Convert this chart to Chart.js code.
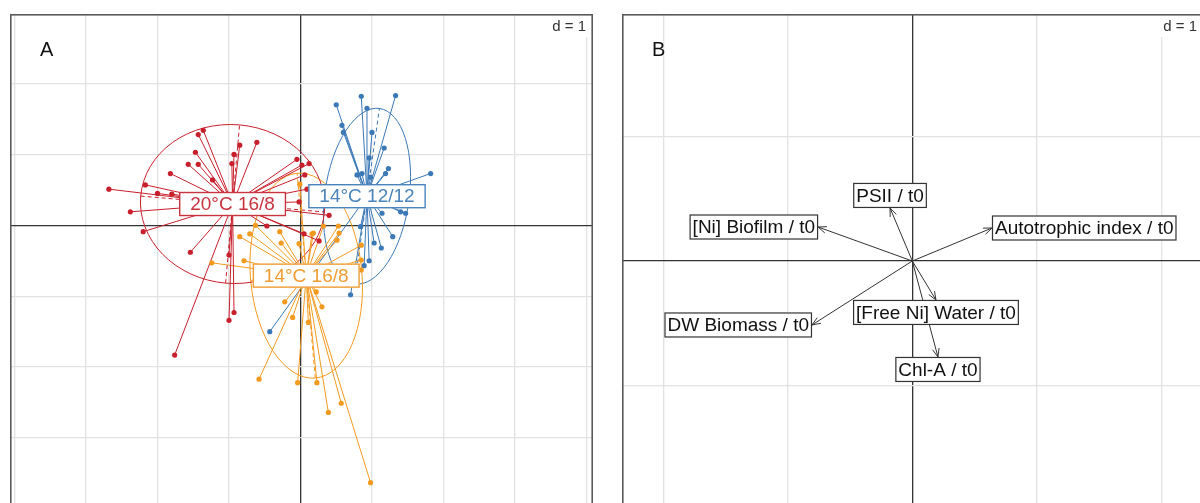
<!DOCTYPE html>
<html>
<head>
<meta charset="utf-8">
<script src="https://cdn.jsdelivr.net/npm/chart.js@4.4.1/dist/chart.umd.min.js"></script>
<style>
    html, body { margin: 0; padding: 0; background: #fff; overflow: hidden; }
    body { width: 1200px; height: 503px; position: relative; }
    .panel { position: absolute; top: 14px; height: 520px; }
    #panelA { left: 10px; width: 583px; }
    #panelB { left: 622px; width: 582px; }
</style>
</head>
<body>
<div class="panel" id="panelA"><canvas id="chartA"></canvas></div>
<div class="panel" id="panelB"><canvas id="chartB"></canvas></div>
<script>
// ---- panel A : groups (s.class) ----
const groupNames = ["14°C 12/12", "14°C 16/8", "20°C 16/8"];
const centroidX = [0.93, 0.08, -0.95];
const centroidY = [0.41, -0.71, 0.30];
// ellipse half axes and tilt (degrees)
const ellipseRx = [0.59, 0.78, 1.29];
const ellipseRy = [1.25, 1.45, 1.12];
const ellipseTilt = [-8, 5, -5];

const blueX = [0.50, 0.85, 1.33, 0.93, 0.58, 0.60, 1.00, 1.17, 1.23, 1.19, 1.82, 0.79, 0.86, 0.98, 0.96, 1.14, 1.40, 1.47, 1.29, 0.84, 1.03, 1.13, 0.89, 0.96, 0.70, -0.43];
const blueY = [1.70, 1.82, 1.83, 1.65, 1.41, 1.31, 1.31, 1.09, 0.80, 0.73, 0.73, 0.71, 0.73, 0.68, 0.95, 0.17, 0.19, 0.17, -0.16, -0.02, -0.25, -0.32, -0.57, -0.50, -0.98, -1.50];

const orangeX = [-0.85, -1.24, -0.79, -0.71, -0.63, -0.29, -0.27, -0.02, 0.18, 0.32, -0.22, -0.11, 0.11, 0.22, 0.30, -0.58, -0.04, 0.23, 0.39, 0.57, 0.98, 0.53, 0.54, 0.51, 0.85, 0.85, 0.85, -0.01, 0.16];
const orangeY = [-0.16, -0.53, -0.50, -0.12, 0.00, -0.09, -0.25, -0.26, -0.11, -0.01, -1.08, -1.30, -1.37, -0.94, -1.15, -2.17, -2.22, -2.22, -2.64, -2.51, -3.63, -0.01, -0.11, -0.21, -0.28, -0.49, -0.63, 0.58, -0.12];

const redX = [-2.68, -2.38, -2.20, -2.17, -2.00, -1.82, -1.80, -1.57, -1.47, -1.43, -1.43, -1.36, -1.23, -0.96, -0.93, -0.85, -0.61, -0.05, 0.02, 0.12, 0.06, 0.09, -0.02, 0.40, -1.54, -1.00, -0.93, -1.00, -1.76, -0.47, 0.05, 0.26];
const redY = [0.51, 0.19, -0.09, 0.57, 0.45, 0.73, 0.44, 0.86, 1.03, 0.86, 1.28, 1.34, 0.64, 0.87, 1.00, 1.13, 1.17, 0.93, 0.85, 0.87, 0.71, 0.51, 0.33, 0.14, -0.38, -0.42, -1.23, -1.34, -1.83, -0.01, -0.12, -0.22];

const ticksAX = [-4, -3, -2, -1, 0, 1, 2, 3, 4];
const ticksAY = [-4, -3, -2, -1, 0, 1, 2];

// ---- panel B : variables (s.arrow) ----
const varNames = ["[Ni] Biofilm / t0", "PSII / t0", "Autotrophic index / t0", "DW Biomass / t0", "[Free Ni] Water / t0", "Chl-A / t0"];
const varX = [-0.757, -0.179, 0.640, -0.806, 0.190, 0.206];
const varY = [0.273, 0.426, 0.265, -0.514, -0.313, -0.771];

const ticksBX = [-2, -1, 0, 1, 2];
const ticksBY = [-2, -1, 0, 1];

// colours
const groupColors = ["#3b79b6", "#f39a1f", "#c81f2c"];
const labelColors = ["#4a84bb", "#f09c33", "#c8343f"];
const FONT = '"Liberation Sans", Arial, sans-serif';

const groupPoints = [[blueX, blueY], [orangeX, orangeY], [redX, redY]];

function starData(cx, cy, xs, ys) {
    const out = [];
    xs.forEach((v, i) => {
        out.push({ x: cx, y: cy }, { x: v, y: ys[i] }, { x: v, y: null });
    });
    return out;
}

function gridScale(min, max, ticks) {
    return {
        type: "linear",
        min: min,
        max: max,
        bounds: "data",
        afterBuildTicks: (axis) => { axis.ticks = ticks.map(v => ({ value: v })); },
        ticks: { display: false },
        border: { display: false },
        grid: {
            drawTicks: false,
            color: (c) => c.tick && c.tick.value === 0 ? "#333333" : "#e2e2e2",
            lineWidth: 1.3
        }
    };
}

// frame, panel letter and "d = 1" box
function framePlugin(letter) {
    return {
        id: "frame" + letter,
        afterDraw(chart) {
            const { ctx, chartArea: a } = chart;
            ctx.save();
            ctx.fillStyle = "#fff";
            ctx.fillRect(a.right - 44, a.top + 1, 43, 22);
            ctx.fillStyle = "#333";
            ctx.font = "15px " + FONT;
            ctx.textAlign = "right";
            ctx.textBaseline = "middle";
            ctx.fillText("d = 1", a.right - 7, a.top + 13);

            ctx.fillStyle = "#111";
            ctx.font = "20px " + FONT;
            ctx.textAlign = "left";
            ctx.fillText(letter, a.left + 30, a.top + 36);

            ctx.strokeStyle = "#5a5a5a";
            ctx.lineWidth = 1.6;
            ctx.strokeRect(a.left + 0.8, a.top + 0.8, a.right - a.left - 1.6, a.bottom - a.top - 1.6);
            ctx.restore();
        }
    };
}

function drawBoxLabel(ctx, text, px, py, align, color, textColor, padX, h) {
    const w = ctx.measureText(text).width + padX * 2;
    let left = px - w / 2, top = py - h / 2;
    if (align === "left") left = px - w;
    if (align === "right") left = px;
    if (align === "top") top = py - h;
    if (align === "bottom") top = py;
    ctx.fillStyle = "#fff";
    ctx.fillRect(left, top, w, h);
    ctx.strokeStyle = color;
    ctx.strokeRect(left + 0.5, top + 0.5, w - 1, h - 1);
    ctx.fillStyle = textColor;
    ctx.textAlign = "left";
    ctx.textBaseline = "middle";
    ctx.fillText(text, left + padX, top + h / 2 + 1);
}

const ellipsePlugin = {
    id: "groupEllipses",
    beforeDatasetsDraw(chart) {
        const { ctx, scales: { x, y } } = chart;
        const sx = x.getPixelForValue(1) - x.getPixelForValue(0);
        const sy = y.getPixelForValue(0) - y.getPixelForValue(1);
        groupNames.forEach((g, i) => {
            const cx = x.getPixelForValue(centroidX[i]);
            const cy = y.getPixelForValue(centroidY[i]);
            const rx = ellipseRx[i], ry = ellipseRy[i];
            ctx.save();
            ctx.save();
            ctx.translate(cx, cy);
            ctx.scale(sx, -sy);
            ctx.rotate(ellipseTilt[i] * Math.PI / 180);
            ctx.beginPath();
            ctx.ellipse(0, 0, rx, ry, 0, 0, Math.PI * 2);
            ctx.restore();
            ctx.strokeStyle = groupColors[i];
            ctx.lineWidth = 1;
            ctx.stroke();

            ctx.save();
            ctx.translate(cx, cy);
            ctx.scale(sx, -sy);
            ctx.rotate(ellipseTilt[i] * Math.PI / 180);
            ctx.beginPath();
            ctx.moveTo(-rx, 0); ctx.lineTo(rx, 0);
            ctx.moveTo(0, -ry); ctx.lineTo(0, ry);
            ctx.restore();
            ctx.setLineDash([4, 3]);
            ctx.stroke();
            ctx.restore();
        });
    },
    afterDatasetsDraw(chart) {
        const { ctx, scales: { x, y } } = chart;
        ctx.save();
        ctx.font = "19px " + FONT;
        ctx.lineWidth = 1.4;
        groupNames.forEach((g, i) => {
            drawBoxLabel(ctx, g, x.getPixelForValue(centroidX[i]), y.getPixelForValue(centroidY[i]),
                "center", labelColors[i], labelColors[i], 11, 24);
        });
        ctx.restore();
    }
};

const datasetsA = [];
groupNames.forEach((g, i) => {
    datasetsA.push({
        label: g + " stars",
        data: starData(centroidX[i], centroidY[i], groupPoints[i][0], groupPoints[i][1]),
        showLine: true,
        borderColor: groupColors[i],
        borderWidth: 1,
        pointRadius: 0,
        order: 10 - i
    });
});
groupNames.forEach((g, i) => {
    datasetsA.push({
        label: g,
        data: groupPoints[i][0].map((v, k) => ({ x: v, y: groupPoints[i][1][k] })),
        pointRadius: 2.6,
        pointBackgroundColor: groupColors[i],
        pointBorderWidth: 0,
        order: 3 - i
    });
});

new Chart(document.getElementById("chartA"), {
    type: "scatter",
    data: { datasets: datasetsA },
    options: {
        responsive: true,
        maintainAspectRatio: false,
        animation: false,
        events: [],
        layout: { padding: 0, autoPadding: false },
        plugins: { legend: { display: false }, tooltip: { enabled: false } },
        scales: {
            x: gridScale(-4.063, 4.091, ticksAX),
            y: gridScale(-4.354, 2.980, ticksAY)
        }
    },
    plugins: [ellipsePlugin, framePlugin("A")]
});

// ---- panel B ----
const arrowPlugin = {
    id: "arrowHeads",
    afterDatasetsDraw(chart) {
        const { ctx, scales: { x, y } } = chart;
        const ox = x.getPixelForValue(0), oy = y.getPixelForValue(0);
        ctx.save();
        ctx.strokeStyle = "#333";
        ctx.lineWidth = 1;
        varNames.forEach((n, i) => {
            const tx = x.getPixelForValue(varX[i]), ty = y.getPixelForValue(varY[i]);
            const ang = Math.atan2(ty - oy, tx - ox);
            const len = 9, spread = 0.38;
            ctx.beginPath();
            ctx.moveTo(tx - len * Math.cos(ang - spread), ty - len * Math.sin(ang - spread));
            ctx.lineTo(tx, ty);
            ctx.lineTo(tx - len * Math.cos(ang + spread), ty - len * Math.sin(ang + spread));
            ctx.stroke();
        });
        ctx.font = "19px " + FONT;
        ctx.lineWidth = 1.2;
        varNames.forEach((n, i) => {
            const tx = x.getPixelForValue(varX[i]), ty = y.getPixelForValue(varY[i]);
            let align;
            if (Math.abs(varX[i]) > Math.abs(varY[i])) align = varX[i] < 0 ? "left" : "right";
            else align = varY[i] > 0 ? "top" : "bottom";
            drawBoxLabel(ctx, n, tx, ty, align, "#333", "#111", 3, 25);
        });
        ctx.restore();
    }
};

new Chart(document.getElementById("chartB"), {
    type: "scatter",
    data: {
        datasets: [{
            label: "variables",
            data: starData(0, 0, varX, varY),
            showLine: true,
            borderColor: "#333",
            borderWidth: 1,
            pointRadius: 0
        }]
    },
    options: {
        responsive: true,
        maintainAspectRatio: false,
        animation: false,
        events: [],
        layout: { padding: 0, autoPadding: false },
        plugins: { legend: { display: false }, tooltip: { enabled: false } },
        scales: {
            x: gridScale(-2.332, 2.343, ticksBX),
            y: gridScale(-2.193, 1.984, ticksBY)
        }
    },
    plugins: [arrowPlugin, framePlugin("B")]
});
</script>
</body>
</html>
